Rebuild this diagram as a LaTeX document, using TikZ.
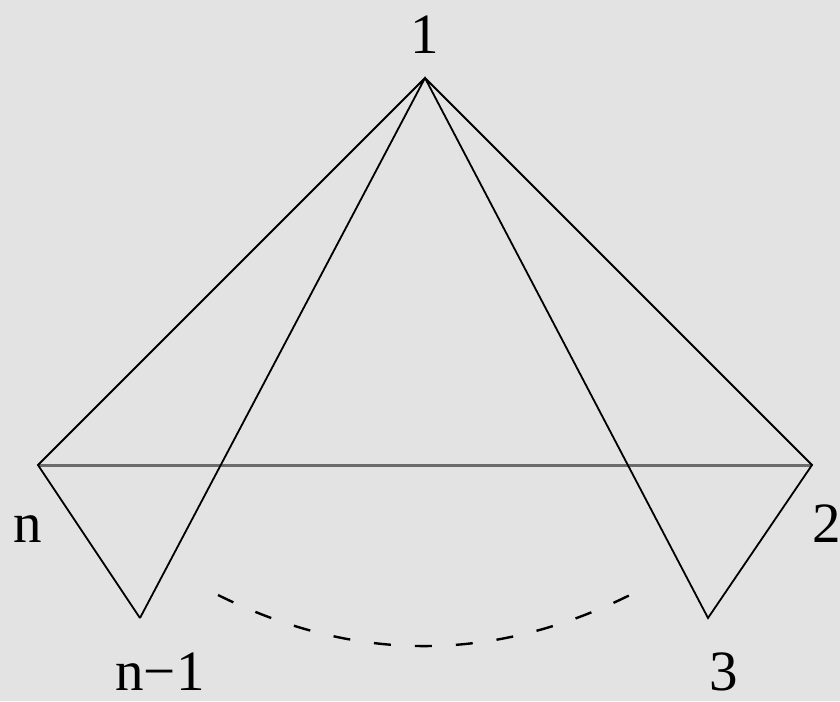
\documentclass[tikz,border=0pt]{standalone}
\usepackage{fontspec}
\setmainfont{Liberation Serif}
\begin{document}
\begin{tikzpicture}[x=1pt,y=-1pt,
  edge/.style={black,line width=1.8pt,line join=miter},
  baseedge/.style={draw=black!58,line width=3pt},
  arcdash/.style={black,line width=2.4pt,dash pattern=on 17pt off 24pt},
  lab/.style={font=\fontsize{57}{57}\selectfont,inner sep=0pt,text depth=0pt,anchor=base}]
\fill[black!11] (0,0) rectangle (840,701);
\useasboundingbox (0,0) rectangle (840,701);
\coordinate (v1) at (425,78);
\coordinate (vn) at (38,465);
\coordinate (v2) at (812,465);
\coordinate (vm) at (140,618);
\coordinate (v3) at (708,618);
\coordinate (a1) at (218,595);
\coordinate (a2) at (632,594);
\draw[baseedge] (vn) -- (v2);
\draw[edge] (vm) -- (vn) -- (v1) -- (v2) -- (v3) -- (v1) -- (vm);
\draw[arcdash] (a1) .. controls (356,663.5) and (494,663) .. (a2);
\node[lab] (l1) at (425,53) {1};
\node[lab] (ln) at (28,542) {n};
\node[lab] (l2) at (827,542) {2};
\node[lab] (lm) at (160,690) {n\char"2212 1};
\node[lab] (l3) at (724,690) {3};
\end{tikzpicture}
\end{document}
